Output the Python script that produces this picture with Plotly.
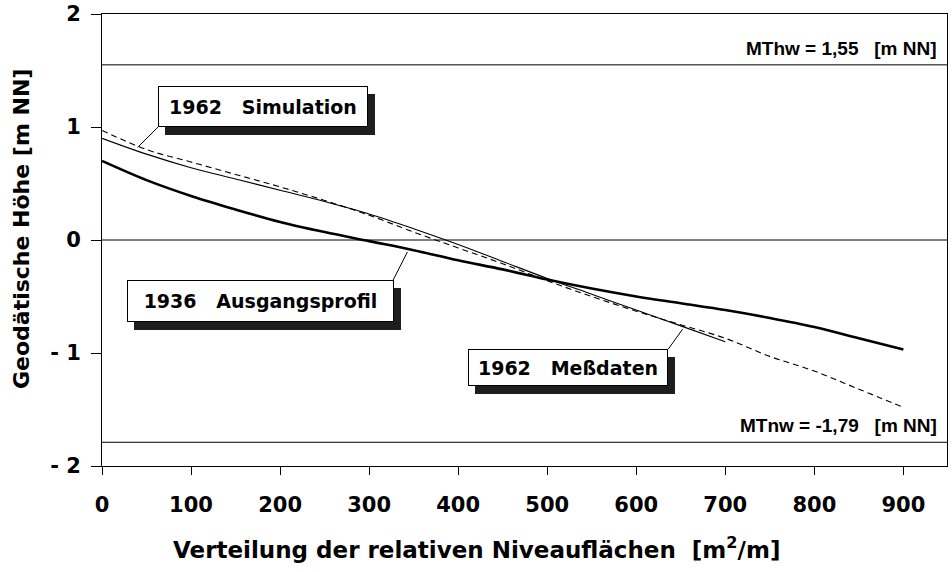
import plotly.graph_objects as go

# 1936 initial profile (thick solid)
x_1936 = [0, 50, 100, 150, 200, 250, 300, 350, 400, 450, 500, 550, 600, 650, 700, 750, 800, 850, 900]
y_1936 = [0.70, 0.53, 0.39, 0.27, 0.16, 0.07, -0.01, -0.09, -0.18, -0.26, -0.35, -0.43, -0.50, -0.56, -0.62, -0.69, -0.77, -0.87, -0.97]

# 1962 simulation (thin solid)
x_sim = [0, 50, 100, 150, 200, 250, 300, 350, 400, 450, 500, 550, 600, 650, 700]
y_sim = [0.90, 0.76, 0.64, 0.54, 0.44, 0.34, 0.23, 0.10, -0.04, -0.19, -0.34, -0.48, -0.62, -0.76, -0.90]

# 1962 measured data (dashed)
x_mess = [0, 50, 100, 150, 200, 250, 300, 350, 400, 450, 500, 550, 600, 650, 700, 750, 800, 850, 900]
y_mess = [0.97, 0.80, 0.69, 0.58, 0.47, 0.35, 0.22, 0.07, -0.07, -0.21, -0.36, -0.50, -0.63, -0.75, -0.87, -1.03, -1.16, -1.32, -1.48]

mthw = 1.55
mtnw = -1.79

x_ticks = [0, 100, 200, 300, 400, 500, 600, 700, 800, 900]
y_ticks = [-2, -1, 0, 1, 2]
y_ticktext = ["- 2", "- 1", "0", "1", "2"]

BOLD = "DejaVu Sans"
NARROW = "Liberation Sans"
NB = "\u00a0"

fig = go.Figure()
fig.add_trace(go.Scatter(x=x_1936, y=y_1936, mode="lines", line_shape="spline",
                         line=dict(color="black", width=2.6), showlegend=False))
fig.add_trace(go.Scatter(x=x_sim, y=y_sim, mode="lines", line_shape="spline",
                         line=dict(color="black", width=1.1), showlegend=False))
fig.add_trace(go.Scatter(x=x_mess, y=y_mess, mode="lines", line_shape="spline",
                         line=dict(color="black", width=1.1, dash="6px,4px"), showlegend=False))

shapes = []
# reference water levels and zero line across the whole plot
for yv in [mthw, 0, mtnw]:
    shapes.append(dict(type="line", xref="paper", x0=0, x1=1, yref="y", y0=yv, y1=yv,
                       line=dict(color="black", width=1)))

# leader lines from label boxes to curves
leaders = [
    (63, 1.0, 40, 0.82),
    (327, -0.354, 343, -0.106),
    (636, -0.965, 652, -0.79),
]
for x0, y0, x1, y1 in leaders:
    shapes.append(dict(type="line", x0=x0, y0=y0, x1=x1, y1=y1, xref="x", yref="y",
                       line=dict(color="black", width=1)))

fig.update_layout(shapes=shapes)

# label boxes with drop shadow
boxes = [
    ("1962" + NB * 3 + "Simulation", 181, 1.18, 208, 39),
    ("1936" + NB * 3 + "Ausgangsprofil", 177.5, -0.538, 265, 40),
    ("1962" + NB * 3 + "Meßdaten", 523.6, -1.128, 198, 35),
]
for text, bx, by, w, h in boxes:
    fig.add_annotation(x=bx, y=by, xref="x", yref="y", text=text, showarrow=False,
                       width=w, height=h, xshift=7, yshift=-8,
                       bgcolor="#1e1e1e", bordercolor="#1e1e1e", borderwidth=1, borderpad=0,
                       font=dict(family=BOLD, size=19, color="#1e1e1e", weight="bold"))
    fig.add_annotation(x=bx, y=by, xref="x", yref="y", text=text, showarrow=False,
                       width=w, height=h,
                       bgcolor="white", bordercolor="black", borderwidth=1, borderpad=0,
                       font=dict(family=BOLD, size=19, color="black", weight="bold"))

# water level labels
fig.add_annotation(x=0.99, y=mthw, xref="paper", yref="y", xanchor="right", yanchor="bottom",
                   yshift=4, showarrow=False,
                   text="MThw" + NB + "=" + NB + "1,55" + NB * 3 + "[m" + NB + "NN]",
                   font=dict(family=NARROW, size=19, color="black", weight="bold"))
fig.add_annotation(x=0.99, y=mtnw, xref="paper", yref="y", xanchor="right", yanchor="bottom",
                   yshift=4, showarrow=False,
                   text="MTnw" + NB + "=" + NB + "-1,79" + NB * 3 + "[m" + NB + "NN]",
                   font=dict(family=NARROW, size=19, color="black", weight="bold"))

# axis titles as free annotations so they sit where the original puts them
fig.add_annotation(x=0.443, y=-0.181, xref="paper", yref="paper", xanchor="center", yanchor="middle",
                   showarrow=False,
                   text="Verteilung der relativen Niveauflächen" + NB * 2 + "[m<sup>2</sup>/m]",
                   font=dict(family=BOLD, size=23, color="black", weight="bold"))
fig.add_annotation(x=-0.096, y=0.524, xref="paper", yref="paper", xanchor="center", yanchor="middle",
                   showarrow=False, textangle=-90,
                   text="Geodätische Höhe [m NN]",
                   font=dict(family=BOLD, size=22, color="black", weight="bold"))

fig.update_xaxes(range=[0, 949], tickmode="array", tickvals=x_ticks,
                 ticks="outside", ticklen=8, tickcolor="black", tickwidth=1,
                 ticklabelstandoff=12,
                 showline=True, linecolor="black", linewidth=1, mirror=True,
                 showgrid=False, zeroline=False,
                 tickfont=dict(family=BOLD, size=21, color="black", weight="bold"))
fig.update_yaxes(range=[-2, 2], tickmode="array", tickvals=y_ticks, ticktext=y_ticktext,
                 ticks="outside", ticklen=10, tickcolor="black", tickwidth=1,
                 ticklabelstandoff=6,
                 showline=True, linecolor="black", linewidth=1, mirror=True,
                 showgrid=False, zeroline=False,
                 tickfont=dict(family=BOLD, size=21, color="black", weight="bold"))

fig.update_layout(width=952, height=572, plot_bgcolor="white", paper_bgcolor="white",
                  margin=dict(l=102, r=5, t=14, b=106, autoexpand=False), showlegend=False)

fig.write_html("out.html", config={"displayModeBar": False},
               post_script="document.body.style.margin='0px';")
